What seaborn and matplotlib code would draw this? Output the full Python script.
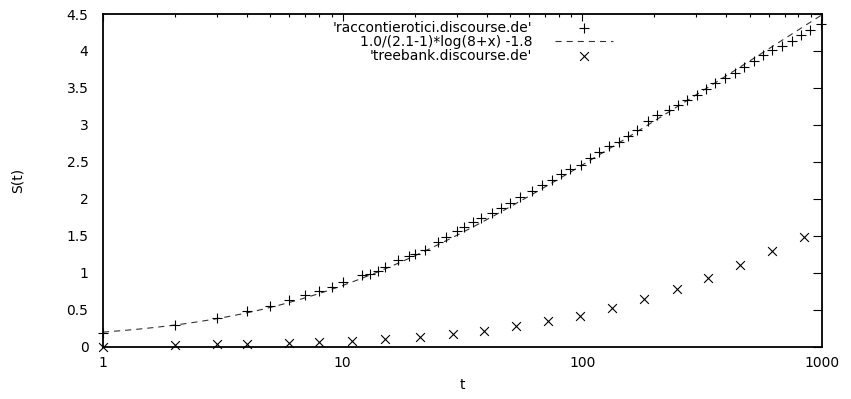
import numpy as np
import pandas as pd
import matplotlib
matplotlib.use("Agg")
import matplotlib.pyplot as plt
import seaborn as sns

# ---- data ----
racc_label = "'raccontierotici.discourse.de'"
racc_t = [1, 2, 3, 4, 5, 6, 7, 8, 9, 10, 12, 13, 14, 15, 17, 19, 20, 22, 25, 27,
          30, 32, 35, 38, 42, 46, 50, 55, 62, 68, 75, 82, 89, 99, 108, 118, 129,
          142, 156, 170, 188, 206, 230, 252, 275, 302, 328, 360, 394, 433, 473,
          521, 569, 621, 683, 752, 820, 897, 990]
racc_s = [0.18, 0.29, 0.39, 0.48, 0.555, 0.63, 0.70, 0.76, 0.81, 0.87, 0.97, 0.99,
          1.03, 1.08, 1.17, 1.23, 1.26, 1.31, 1.41, 1.48, 1.56, 1.62, 1.68, 1.74,
          1.81, 1.87, 1.95, 2.03, 2.11, 2.19, 2.26, 2.34, 2.40, 2.46, 2.55, 2.63,
          2.71, 2.77, 2.85, 2.93, 3.05, 3.13, 3.20, 3.27, 3.34, 3.41, 3.49, 3.56,
          3.63, 3.70, 3.78, 3.86, 3.94, 4.01, 4.07, 4.14, 4.22, 4.29, 4.37]

tree_label = "'treebank.discourse.de'"
tree_t = [1, 2, 3, 4, 6, 8, 11, 15, 21, 29, 39, 53, 72, 98, 133, 182, 248, 336,
          458, 621, 847]
tree_s = [0.0, 0.02, 0.03, 0.04, 0.05, 0.06, 0.08, 0.10, 0.135, 0.17, 0.21, 0.28,
          0.35, 0.42, 0.52, 0.64, 0.78, 0.93, 1.10, 1.29, 1.49]

# fitted function shown in the legend: 1.0/(2.1-1)*log(8+x) -1.8
fit_label = "1.0/(2.1-1)*log(8+x) -1.8"
fit_gamma = 2.1
fit_offset = 8.0
fit_shift = -1.8

x_ticks = [1, 10, 100, 1000]
x_tick_labels = ["1", "10", "100", "1000"]
y_ticks = [0, 0.5, 1, 1.5, 2, 2.5, 3, 3.5, 4, 4.5]
y_tick_labels = ["0", "0.5", "1", "1.5", "2", "2.5", "3", "3.5", "4", "4.5"]
x_label = "t"
y_label = "S(t)"

# ---- styling ----
sns.set_theme(style="white")
plt.rcParams['font.family'] = ['DejaVu Sans']

W, H = 851, 399
fig = plt.figure(figsize=(W / 100, H / 100), dpi=100)
left, right, top, bottom = 103, 821.7, 14, 346.7
ax = fig.add_axes([left / W, 1 - bottom / H, (right - left) / W, (bottom - top) / H])
ax.set_facecolor("white")

sns.scatterplot(x=racc_t, y=racc_s, marker="+", s=44, color="black",
                linewidth=0.8, ax=ax, label=racc_label, clip_on=False, zorder=3)

fit_x = np.geomspace(1, 1000, 300)
fit_y = 1.0 / (fit_gamma - 1) * np.log(fit_offset + fit_x) + fit_shift
sns.lineplot(x=fit_x, y=fit_y, ax=ax, color="#333333", linewidth=0.8,
             linestyle=(0, (5.5, 4.5)), label=fit_label, estimator=None,
             sort=False, zorder=2)

sns.scatterplot(x=tree_t, y=tree_s, marker="x", s=40, color="black",
                linewidth=0.8, ax=ax, label=tree_label, clip_on=False, zorder=3)

ax.set_xscale("log")
ax.set_xlim(1, 1000)
ax.set_ylim(0, 4.5)
ax.set_xticks(x_ticks)
ax.set_xticklabels(x_tick_labels)
ax.set_yticks(y_ticks)
ax.set_yticklabels(y_tick_labels)
ax.xaxis.set_minor_formatter(matplotlib.ticker.NullFormatter())

for s in ax.spines.values():
    s.set_visible(True)
    s.set_color("black")
    s.set_linewidth(1.3)

ax.tick_params(which="both", direction="in", top=True, right=True,
               color="black", labelcolor="black", labelsize=10)
ax.tick_params(axis="y", which="major", length=6.5, width=0.8, pad=10.5)
ax.tick_params(axis="x", which="major", length=4.7, width=0.8, pad=7)
ax.tick_params(axis="x", which="minor", length=2.5, width=0.8)
ax.tick_params(axis="y", which="minor", length=0)

ax.set_xlabel(x_label, fontsize=10, color="black")
ax.set_ylabel(y_label, fontsize=10, color="black")
ax.xaxis.set_label_coords(0.5, (bottom - 385) / (bottom - top))
ax.xaxis.label.set_va("center")
ax.yaxis.set_label_coords((18 - left) / (right - left), 0.5)
ax.yaxis.label.set_va("center")
ax.yaxis.label.set_ha("center")

leg = ax.legend(loc="upper right",
                bbox_to_anchor=((613 - left) / (right - left), (bottom - 21) / (bottom - top)),
                frameon=False, markerfirst=False, fontsize=10, borderpad=0,
                borderaxespad=0, handlelength=4.2, handletextpad=1.6,
                labelspacing=0.0, scatterpoints=1)
for t in leg.get_texts():
    t.set_color("black")

fig.savefig("out.png", dpi=100, facecolor="white")
